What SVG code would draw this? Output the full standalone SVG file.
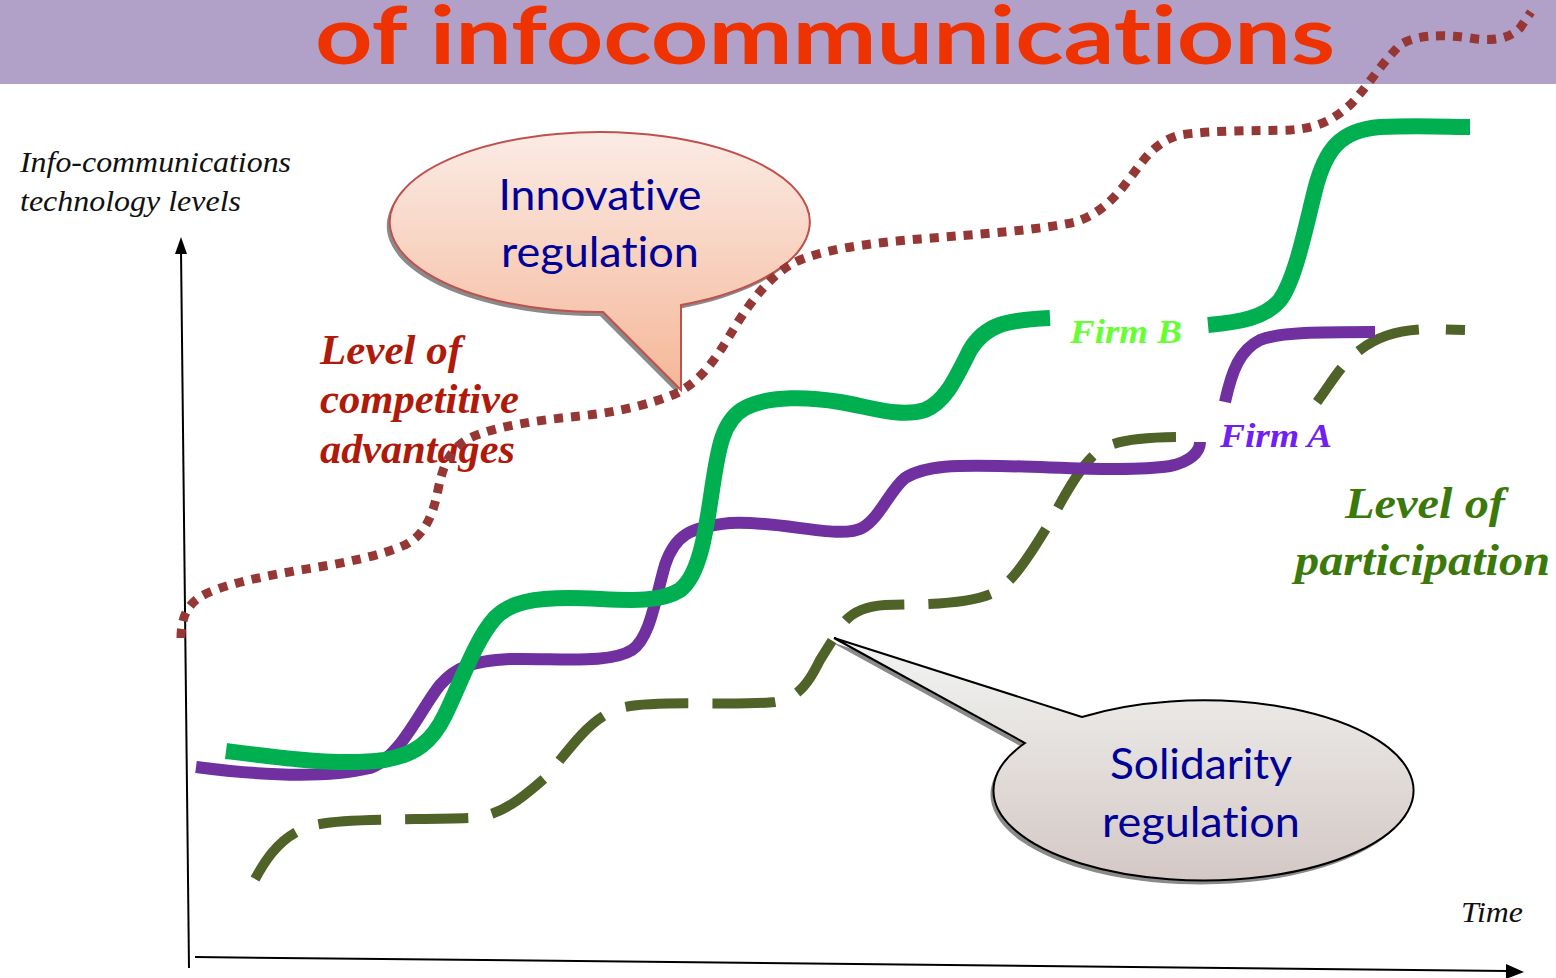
<svg xmlns="http://www.w3.org/2000/svg" width="1556" height="978" viewBox="0 0 1556 978">
<defs>
<linearGradient id="gInno" x1="0" y1="0" x2="0" y2="1">
<stop offset="0" stop-color="#FBEBE5"/>
<stop offset="1" stop-color="#F5B798"/>
</linearGradient>
<linearGradient id="gSoli" x1="0" y1="0" x2="0" y2="1">
<stop offset="0" stop-color="#F2F4F2"/>
<stop offset="1" stop-color="#D4C8C5"/>
</linearGradient>
<style>
text{font-variant-ligatures:none;font-feature-settings:"liga" 0,"dlig" 0}
.ax{fill:none;stroke:#000;stroke-width:2}
.axt{font-family:"Liberation Serif",serif;font-style:italic;font-size:30px;fill:#111}
.lbl{font-family:"Liberation Serif",serif;font-style:italic;font-weight:bold}
.ct{font-family:Lato,"Open Sans",sans-serif;font-size:43px;fill:#000099;text-anchor:middle}
.purple{fill:none;stroke:#7030A0;stroke-width:12}
.green{fill:none;stroke:#00B050;stroke-width:16}
.olive{fill:none;stroke:#4F6228;stroke-width:10;stroke-dasharray:63 24}
.dots{fill:none;stroke:#953735;stroke-width:9;stroke-dasharray:9 8}
</style>
</defs>
<rect width="1556" height="978" fill="#fff"/>
<g id="title">
<rect x="0" y="0" width="1556" height="84" fill="#B1A0C7"/>
<text x="315" y="64" font-family="Lato,'Open Sans',sans-serif" font-weight="bold" font-size="80" fill="#EE3300" textLength="1020" lengthAdjust="spacingAndGlyphs">of infocommunications</text>
</g>
<g id="axes">
<line class="ax" x1="189" y1="968" x2="181" y2="250"/>
<polygon points="181,237 175,254 187,254" fill="#000"/>
<line class="ax" x1="195" y1="957" x2="1508" y2="971"/>
<polygon points="1524,972 1506,964 1506,979" fill="#000"/>
<text class="axt" x="20" y="172" textLength="271" lengthAdjust="spacingAndGlyphs">Info-communications</text>
<text class="axt" x="20" y="211" textLength="221" lengthAdjust="spacingAndGlyphs">technology levels</text>
<text class="axt" x="1461" y="922" textLength="62" lengthAdjust="spacingAndGlyphs">Time</text>
</g>
<g id="callout-innovative">
<path d="M603,312 L681,390 L681,305 A210 90 0 1 0 603,312 Z" fill="#8a8a8a" transform="translate(-3,4)"/>
<path d="M603,312 L681,390 L681,305 A210 90 0 1 0 603,312 Z" fill="url(#gInno)" stroke="#C0504D" stroke-width="2"/>
<text class="ct" x="600" y="210" textLength="203" lengthAdjust="spacingAndGlyphs">Innovative</text>
<text class="ct" x="600" y="267" textLength="198" lengthAdjust="spacingAndGlyphs">regulation</text>
</g>
<g id="callout-solidarity">
<path d="M1082,717 L834,638 L1025,743 A210 90 0 1 0 1082,717 Z" fill="#8a8a8a" transform="translate(-3,4)"/>
<path d="M1082,717 L834,638 L1025,743 A210 90 0 1 0 1082,717 Z" fill="url(#gSoli)" stroke="#000" stroke-width="2"/>
<text class="ct" x="1201" y="779" textLength="182" lengthAdjust="spacingAndGlyphs">Solidarity</text>
<text class="ct" x="1201" y="837" textLength="198" lengthAdjust="spacingAndGlyphs">regulation</text>
</g>
<g id="labels">
<text class="lbl" x="320" y="364" font-size="42" fill="#AF1A0A" textLength="142" lengthAdjust="spacingAndGlyphs">Level of</text>
<text class="lbl" x="320" y="413" font-size="42" fill="#AF1A0A" textLength="199" lengthAdjust="spacingAndGlyphs">competitive</text>
<text class="lbl" x="320" y="463" font-size="42" fill="#AF1A0A" textLength="195" lengthAdjust="spacingAndGlyphs">advantages</text>
<text class="lbl" x="1345" y="518" font-size="45" fill="#3B7A0A" textLength="160" lengthAdjust="spacingAndGlyphs">Level of</text>
<text class="lbl" x="1295" y="575" font-size="45" fill="#3B7A0A" textLength="255" lengthAdjust="spacingAndGlyphs">participation</text>
<text class="lbl" x="1070" y="343" font-size="34" fill="#66FF33" textLength="112" lengthAdjust="spacingAndGlyphs">Firm B</text>
<text class="lbl" x="1220" y="447" font-size="34" fill="#7020F0" textLength="112" lengthAdjust="spacingAndGlyphs">Firm A</text>
</g>
<g id="connectors">
<path class="olive" d="M255,879 C268,855 285,830 320,824 C350,818 420,820 470,818 C500,816 520,800 545,778 C570,750 590,715 625,707 C660,700 740,706 775,702 C800,698 810,680 820,660 L835,636 C845,618 855,607 885,605 C920,604 970,605 995,592 C1015,580 1030,555 1050,522 C1065,495 1080,465 1100,450 C1120,437 1160,437 1195,437"/>
<path class="olive" d="M1317,402 C1330,385 1340,365 1360,350 C1380,335 1400,330 1430,329 L1465,330" style="stroke-dasharray:42 24 65 27 20 200"/>
<path class="purple" d="M196,767 C250,774 320,780 370,768 C400,758 420,710 440,685 C455,668 470,661 510,659 C560,658 610,664 632,650 C650,638 655,600 665,565 C675,535 690,527 730,523 C780,520 840,540 862,528 C880,518 890,490 905,478 C925,465 960,465 1000,466 C1060,467 1130,472 1170,466 C1190,462 1200,452 1200,442"/>
<path class="purple" d="M1225,402 C1232,370 1240,350 1260,340 C1280,332 1320,332 1375,332"/>
<path class="green" d="M226,751 C280,758 340,766 384,760 C415,755 432,742 445,715 C460,685 475,640 495,618 C510,602 535,598 570,598 C610,598 655,606 680,590 C700,575 706,530 712,490 C718,450 722,420 745,408 C770,395 810,397 840,402 C870,407 900,418 925,410 C945,402 955,380 970,350 C985,325 1005,320 1050,318"/>
<path class="green" d="M1208,325 C1240,322 1265,318 1280,300 C1295,280 1305,230 1315,190 C1325,150 1340,130 1380,127 C1420,125 1450,127 1470,127"/>
<path class="dots" d="M181,638 C181,620 186,606 200,597 C220,585 260,577 300,570 C340,564 380,556 405,545 C425,535 433,515 438,490 C443,465 450,448 470,438 C495,426 540,420 580,416 C620,412 650,404 675,394 C700,382 715,360 730,335 C745,310 765,280 790,265 C815,250 870,243 920,239 C980,234 1040,230 1075,222 C1100,214 1115,198 1130,178 C1145,158 1155,142 1180,135 C1210,130 1260,131 1290,130 C1320,128 1335,118 1350,105 C1365,90 1380,65 1400,45 C1415,35 1440,34 1470,38 C1495,42 1510,38 1520,28 L1531,12"/>
</g>
</svg>
